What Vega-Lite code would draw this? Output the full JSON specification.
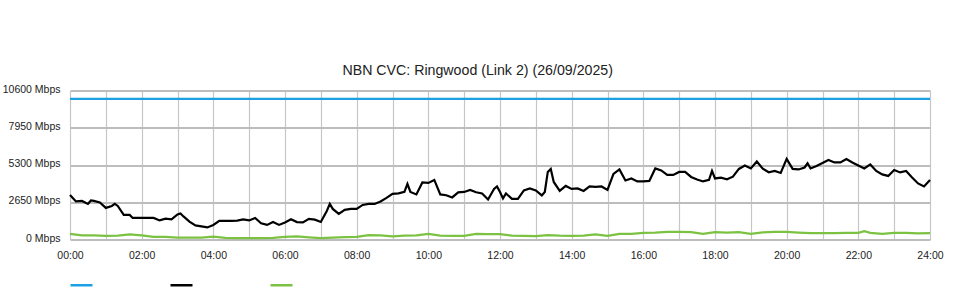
{
  "$schema": "https://vega.github.io/schema/vega-lite/v6.json",
  "autosize": {"type": "none"},
  "width": 860,
  "height": 149,
  "padding": {"left": 70, "top": 90.5, "right": 30, "bottom": 60.5},
  "background": "#ffffff",
  "title": {"text": "NBN CVC: Ringwood (Link 2) (26/09/2025)", "font": "Liberation Sans", "fontSize": 14.2, "fontWeight": "normal", "color": "#222222", "frame": "bounds", "anchor": "middle", "offset": 6, "dx": 5},
  "config": {"view": {"stroke": null}, "font": "Liberation Sans"},
  "data": {"values": [
    {"t": "2025-09-26T00:00", "s": "Capacity", "v": 10000},
    {"t": "2025-09-27T00:00", "s": "Capacity", "v": 10000},
    {"t": "2025-09-26T00:00", "s": "Download", "v": 3171},
    {"t": "2025-09-26T00:10", "s": "Download", "v": 2709},
    {"t": "2025-09-26T00:20", "s": "Download", "v": 2744},
    {"t": "2025-09-26T00:30", "s": "Download", "v": 2531},
    {"t": "2025-09-26T00:35", "s": "Download", "v": 2780},
    {"t": "2025-09-26T00:40", "s": "Download", "v": 2744},
    {"t": "2025-09-26T00:50", "s": "Download", "v": 2638},
    {"t": "2025-09-26T01:00", "s": "Download", "v": 2247},
    {"t": "2025-09-26T01:10", "s": "Download", "v": 2389},
    {"t": "2025-09-26T01:15", "s": "Download", "v": 2531},
    {"t": "2025-09-26T01:20", "s": "Download", "v": 2389},
    {"t": "2025-09-26T01:30", "s": "Download", "v": 1749},
    {"t": "2025-09-26T01:40", "s": "Download", "v": 1749},
    {"t": "2025-09-26T01:45", "s": "Download", "v": 1536},
    {"t": "2025-09-26T01:50", "s": "Download", "v": 1536},
    {"t": "2025-09-26T02:00", "s": "Download", "v": 1536},
    {"t": "2025-09-26T02:10", "s": "Download", "v": 1536},
    {"t": "2025-09-26T02:20", "s": "Download", "v": 1536},
    {"t": "2025-09-26T02:30", "s": "Download", "v": 1358},
    {"t": "2025-09-26T02:40", "s": "Download", "v": 1486},
    {"t": "2025-09-26T02:50", "s": "Download", "v": 1429},
    {"t": "2025-09-26T03:00", "s": "Download", "v": 1785},
    {"t": "2025-09-26T03:05", "s": "Download", "v": 1856},
    {"t": "2025-09-26T03:10", "s": "Download", "v": 1642},
    {"t": "2025-09-26T03:20", "s": "Download", "v": 1273},
    {"t": "2025-09-26T03:30", "s": "Download", "v": 1003},
    {"t": "2025-09-26T03:40", "s": "Download", "v": 931},
    {"t": "2025-09-26T03:50", "s": "Download", "v": 860},
    {"t": "2025-09-26T04:00", "s": "Download", "v": 1038},
    {"t": "2025-09-26T04:10", "s": "Download", "v": 1322},
    {"t": "2025-09-26T04:20", "s": "Download", "v": 1322},
    {"t": "2025-09-26T04:30", "s": "Download", "v": 1322},
    {"t": "2025-09-26T04:40", "s": "Download", "v": 1344},
    {"t": "2025-09-26T04:50", "s": "Download", "v": 1429},
    {"t": "2025-09-26T05:00", "s": "Download", "v": 1358},
    {"t": "2025-09-26T05:10", "s": "Download", "v": 1536},
    {"t": "2025-09-26T05:20", "s": "Download", "v": 1159},
    {"t": "2025-09-26T05:30", "s": "Download", "v": 1038},
    {"t": "2025-09-26T05:40", "s": "Download", "v": 1251},
    {"t": "2025-09-26T05:50", "s": "Download", "v": 1038},
    {"t": "2025-09-26T06:00", "s": "Download", "v": 1216},
    {"t": "2025-09-26T06:10", "s": "Download", "v": 1443},
    {"t": "2025-09-26T06:20", "s": "Download", "v": 1237},
    {"t": "2025-09-26T06:30", "s": "Download", "v": 1216},
    {"t": "2025-09-26T06:40", "s": "Download", "v": 1465},
    {"t": "2025-09-26T06:50", "s": "Download", "v": 1415},
    {"t": "2025-09-26T07:00", "s": "Download", "v": 1251},
    {"t": "2025-09-26T07:10", "s": "Download", "v": 2033},
    {"t": "2025-09-26T07:15", "s": "Download", "v": 2531},
    {"t": "2025-09-26T07:20", "s": "Download", "v": 2176},
    {"t": "2025-09-26T07:30", "s": "Download", "v": 1820},
    {"t": "2025-09-26T07:40", "s": "Download", "v": 2105},
    {"t": "2025-09-26T07:50", "s": "Download", "v": 2176},
    {"t": "2025-09-26T08:00", "s": "Download", "v": 2176},
    {"t": "2025-09-26T08:10", "s": "Download", "v": 2460},
    {"t": "2025-09-26T08:20", "s": "Download", "v": 2531},
    {"t": "2025-09-26T08:30", "s": "Download", "v": 2531},
    {"t": "2025-09-26T08:40", "s": "Download", "v": 2709},
    {"t": "2025-09-26T08:50", "s": "Download", "v": 2958},
    {"t": "2025-09-26T09:00", "s": "Download", "v": 3242},
    {"t": "2025-09-26T09:10", "s": "Download", "v": 3278},
    {"t": "2025-09-26T09:20", "s": "Download", "v": 3384},
    {"t": "2025-09-26T09:25", "s": "Download", "v": 3953},
    {"t": "2025-09-26T09:30", "s": "Download", "v": 3384},
    {"t": "2025-09-26T09:40", "s": "Download", "v": 3207},
    {"t": "2025-09-26T09:50", "s": "Download", "v": 4060},
    {"t": "2025-09-26T10:00", "s": "Download", "v": 4024},
    {"t": "2025-09-26T10:10", "s": "Download", "v": 4238},
    {"t": "2025-09-26T10:20", "s": "Download", "v": 3207},
    {"t": "2025-09-26T10:30", "s": "Download", "v": 3150},
    {"t": "2025-09-26T10:40", "s": "Download", "v": 2993},
    {"t": "2025-09-26T10:50", "s": "Download", "v": 3349},
    {"t": "2025-09-26T11:00", "s": "Download", "v": 3384},
    {"t": "2025-09-26T11:10", "s": "Download", "v": 3527},
    {"t": "2025-09-26T11:20", "s": "Download", "v": 3363},
    {"t": "2025-09-26T11:30", "s": "Download", "v": 3278},
    {"t": "2025-09-26T11:40", "s": "Download", "v": 2851},
    {"t": "2025-09-26T11:50", "s": "Download", "v": 3598},
    {"t": "2025-09-26T11:55", "s": "Download", "v": 3775},
    {"t": "2025-09-26T12:00", "s": "Download", "v": 3384},
    {"t": "2025-09-26T12:05", "s": "Download", "v": 2922},
    {"t": "2025-09-26T12:10", "s": "Download", "v": 3278},
    {"t": "2025-09-26T12:20", "s": "Download", "v": 2887},
    {"t": "2025-09-26T12:30", "s": "Download", "v": 2887},
    {"t": "2025-09-26T12:40", "s": "Download", "v": 3491},
    {"t": "2025-09-26T12:50", "s": "Download", "v": 3633},
    {"t": "2025-09-26T13:00", "s": "Download", "v": 3491},
    {"t": "2025-09-26T13:10", "s": "Download", "v": 3136},
    {"t": "2025-09-26T13:15", "s": "Download", "v": 3384},
    {"t": "2025-09-26T13:20", "s": "Download", "v": 4806},
    {"t": "2025-09-26T13:25", "s": "Download", "v": 5020},
    {"t": "2025-09-26T13:30", "s": "Download", "v": 4095},
    {"t": "2025-09-26T13:40", "s": "Download", "v": 3455},
    {"t": "2025-09-26T13:50", "s": "Download", "v": 3811},
    {"t": "2025-09-26T14:00", "s": "Download", "v": 3598},
    {"t": "2025-09-26T14:10", "s": "Download", "v": 3633},
    {"t": "2025-09-26T14:20", "s": "Download", "v": 3455},
    {"t": "2025-09-26T14:30", "s": "Download", "v": 3775},
    {"t": "2025-09-26T14:40", "s": "Download", "v": 3740},
    {"t": "2025-09-26T14:50", "s": "Download", "v": 3775},
    {"t": "2025-09-26T15:00", "s": "Download", "v": 3527},
    {"t": "2025-09-26T15:10", "s": "Download", "v": 4664},
    {"t": "2025-09-26T15:20", "s": "Download", "v": 4984},
    {"t": "2025-09-26T15:30", "s": "Download", "v": 4202},
    {"t": "2025-09-26T15:40", "s": "Download", "v": 4344},
    {"t": "2025-09-26T15:50", "s": "Download", "v": 4131},
    {"t": "2025-09-26T16:00", "s": "Download", "v": 4131},
    {"t": "2025-09-26T16:10", "s": "Download", "v": 4166},
    {"t": "2025-09-26T16:20", "s": "Download", "v": 5055},
    {"t": "2025-09-26T16:30", "s": "Download", "v": 4913},
    {"t": "2025-09-26T16:40", "s": "Download", "v": 4593},
    {"t": "2025-09-26T16:50", "s": "Download", "v": 4593},
    {"t": "2025-09-26T17:00", "s": "Download", "v": 4806},
    {"t": "2025-09-26T17:10", "s": "Download", "v": 4806},
    {"t": "2025-09-26T17:20", "s": "Download", "v": 4451},
    {"t": "2025-09-26T17:30", "s": "Download", "v": 4273},
    {"t": "2025-09-26T17:40", "s": "Download", "v": 4131},
    {"t": "2025-09-26T17:50", "s": "Download", "v": 4238},
    {"t": "2025-09-26T17:55", "s": "Download", "v": 4877},
    {"t": "2025-09-26T18:00", "s": "Download", "v": 4344},
    {"t": "2025-09-26T18:10", "s": "Download", "v": 4401},
    {"t": "2025-09-26T18:20", "s": "Download", "v": 4287},
    {"t": "2025-09-26T18:30", "s": "Download", "v": 4472},
    {"t": "2025-09-26T18:40", "s": "Download", "v": 5020},
    {"t": "2025-09-26T18:50", "s": "Download", "v": 5269},
    {"t": "2025-09-26T19:00", "s": "Download", "v": 5055},
    {"t": "2025-09-26T19:10", "s": "Download", "v": 5553},
    {"t": "2025-09-26T19:20", "s": "Download", "v": 5041},
    {"t": "2025-09-26T19:30", "s": "Download", "v": 4785},
    {"t": "2025-09-26T19:40", "s": "Download", "v": 4877},
    {"t": "2025-09-26T19:50", "s": "Download", "v": 4735},
    {"t": "2025-09-26T20:00", "s": "Download", "v": 5731},
    {"t": "2025-09-26T20:10", "s": "Download", "v": 5020},
    {"t": "2025-09-26T20:20", "s": "Download", "v": 4984},
    {"t": "2025-09-26T20:30", "s": "Download", "v": 5126},
    {"t": "2025-09-26T20:35", "s": "Download", "v": 5425},
    {"t": "2025-09-26T20:40", "s": "Download", "v": 5055},
    {"t": "2025-09-26T20:50", "s": "Download", "v": 5233},
    {"t": "2025-09-26T21:00", "s": "Download", "v": 5446},
    {"t": "2025-09-26T21:10", "s": "Download", "v": 5660},
    {"t": "2025-09-26T21:20", "s": "Download", "v": 5482},
    {"t": "2025-09-26T21:30", "s": "Download", "v": 5482},
    {"t": "2025-09-26T21:40", "s": "Download", "v": 5731},
    {"t": "2025-09-26T21:50", "s": "Download", "v": 5482},
    {"t": "2025-09-26T22:00", "s": "Download", "v": 5269},
    {"t": "2025-09-26T22:10", "s": "Download", "v": 5055},
    {"t": "2025-09-26T22:20", "s": "Download", "v": 5340},
    {"t": "2025-09-26T22:30", "s": "Download", "v": 4877},
    {"t": "2025-09-26T22:40", "s": "Download", "v": 4629},
    {"t": "2025-09-26T22:50", "s": "Download", "v": 4522},
    {"t": "2025-09-26T23:00", "s": "Download", "v": 4949},
    {"t": "2025-09-26T23:10", "s": "Download", "v": 4771},
    {"t": "2025-09-26T23:20", "s": "Download", "v": 4877},
    {"t": "2025-09-26T23:30", "s": "Download", "v": 4415},
    {"t": "2025-09-26T23:40", "s": "Download", "v": 3989},
    {"t": "2025-09-26T23:50", "s": "Download", "v": 3775},
    {"t": "2025-09-27T00:00", "s": "Download", "v": 4238},
    {"t": "2025-09-26T00:00", "s": "Upload", "v": 398},
    {"t": "2025-09-26T00:20", "s": "Upload", "v": 292},
    {"t": "2025-09-26T00:40", "s": "Upload", "v": 292},
    {"t": "2025-09-26T01:00", "s": "Upload", "v": 256},
    {"t": "2025-09-26T01:20", "s": "Upload", "v": 270},
    {"t": "2025-09-26T01:40", "s": "Upload", "v": 363},
    {"t": "2025-09-26T02:00", "s": "Upload", "v": 292},
    {"t": "2025-09-26T02:20", "s": "Upload", "v": 185},
    {"t": "2025-09-26T02:40", "s": "Upload", "v": 185},
    {"t": "2025-09-26T03:00", "s": "Upload", "v": 135},
    {"t": "2025-09-26T03:20", "s": "Upload", "v": 135},
    {"t": "2025-09-26T03:40", "s": "Upload", "v": 135},
    {"t": "2025-09-26T04:00", "s": "Upload", "v": 206},
    {"t": "2025-09-26T04:20", "s": "Upload", "v": 114},
    {"t": "2025-09-26T04:40", "s": "Upload", "v": 92},
    {"t": "2025-09-26T05:00", "s": "Upload", "v": 92},
    {"t": "2025-09-26T05:20", "s": "Upload", "v": 92},
    {"t": "2025-09-26T05:40", "s": "Upload", "v": 114},
    {"t": "2025-09-26T06:00", "s": "Upload", "v": 185},
    {"t": "2025-09-26T06:20", "s": "Upload", "v": 220},
    {"t": "2025-09-26T06:40", "s": "Upload", "v": 149},
    {"t": "2025-09-26T07:00", "s": "Upload", "v": 92},
    {"t": "2025-09-26T07:20", "s": "Upload", "v": 135},
    {"t": "2025-09-26T07:40", "s": "Upload", "v": 164},
    {"t": "2025-09-26T08:00", "s": "Upload", "v": 185},
    {"t": "2025-09-26T08:20", "s": "Upload", "v": 306},
    {"t": "2025-09-26T08:40", "s": "Upload", "v": 292},
    {"t": "2025-09-26T09:00", "s": "Upload", "v": 220},
    {"t": "2025-09-26T09:20", "s": "Upload", "v": 277},
    {"t": "2025-09-26T09:40", "s": "Upload", "v": 292},
    {"t": "2025-09-26T10:00", "s": "Upload", "v": 398},
    {"t": "2025-09-26T10:20", "s": "Upload", "v": 277},
    {"t": "2025-09-26T10:40", "s": "Upload", "v": 256},
    {"t": "2025-09-26T11:00", "s": "Upload", "v": 256},
    {"t": "2025-09-26T11:20", "s": "Upload", "v": 398},
    {"t": "2025-09-26T11:40", "s": "Upload", "v": 377},
    {"t": "2025-09-26T12:00", "s": "Upload", "v": 377},
    {"t": "2025-09-26T12:20", "s": "Upload", "v": 277},
    {"t": "2025-09-26T12:40", "s": "Upload", "v": 256},
    {"t": "2025-09-26T13:00", "s": "Upload", "v": 235},
    {"t": "2025-09-26T13:20", "s": "Upload", "v": 306},
    {"t": "2025-09-26T13:40", "s": "Upload", "v": 270},
    {"t": "2025-09-26T14:00", "s": "Upload", "v": 256},
    {"t": "2025-09-26T14:20", "s": "Upload", "v": 277},
    {"t": "2025-09-26T14:40", "s": "Upload", "v": 363},
    {"t": "2025-09-26T15:00", "s": "Upload", "v": 256},
    {"t": "2025-09-26T15:20", "s": "Upload", "v": 398},
    {"t": "2025-09-26T15:40", "s": "Upload", "v": 398},
    {"t": "2025-09-26T16:00", "s": "Upload", "v": 469},
    {"t": "2025-09-26T16:20", "s": "Upload", "v": 490},
    {"t": "2025-09-26T16:40", "s": "Upload", "v": 540},
    {"t": "2025-09-26T17:00", "s": "Upload", "v": 540},
    {"t": "2025-09-26T17:20", "s": "Upload", "v": 519},
    {"t": "2025-09-26T17:40", "s": "Upload", "v": 398},
    {"t": "2025-09-26T18:00", "s": "Upload", "v": 519},
    {"t": "2025-09-26T18:20", "s": "Upload", "v": 490},
    {"t": "2025-09-26T18:40", "s": "Upload", "v": 526},
    {"t": "2025-09-26T19:00", "s": "Upload", "v": 398},
    {"t": "2025-09-26T19:20", "s": "Upload", "v": 505},
    {"t": "2025-09-26T19:40", "s": "Upload", "v": 540},
    {"t": "2025-09-26T20:00", "s": "Upload", "v": 540},
    {"t": "2025-09-26T20:20", "s": "Upload", "v": 490},
    {"t": "2025-09-26T20:40", "s": "Upload", "v": 448},
    {"t": "2025-09-26T21:00", "s": "Upload", "v": 448},
    {"t": "2025-09-26T21:20", "s": "Upload", "v": 448},
    {"t": "2025-09-26T21:40", "s": "Upload", "v": 469},
    {"t": "2025-09-26T22:00", "s": "Upload", "v": 469},
    {"t": "2025-09-26T22:10", "s": "Upload", "v": 590},
    {"t": "2025-09-26T22:20", "s": "Upload", "v": 469},
    {"t": "2025-09-26T22:40", "s": "Upload", "v": 398},
    {"t": "2025-09-26T23:00", "s": "Upload", "v": 469},
    {"t": "2025-09-26T23:20", "s": "Upload", "v": 469},
    {"t": "2025-09-26T23:40", "s": "Upload", "v": 434},
    {"t": "2025-09-27T00:00", "s": "Upload", "v": 448}
  ]},
  "mark": {"type": "line", "strokeWidth": 2.2, "interpolate": "linear"},
  "encoding": {
    "x": {
      "field": "t", "type": "temporal",
      "scale": {"domain": ["2025-09-26T00:00", "2025-09-27T00:00"], "nice": false},
      "axis": {
        "title": null,
        "values": ["2025-09-26T00:00","2025-09-26T01:00","2025-09-26T02:00","2025-09-26T03:00","2025-09-26T04:00","2025-09-26T05:00","2025-09-26T06:00","2025-09-26T07:00","2025-09-26T08:00","2025-09-26T09:00","2025-09-26T10:00","2025-09-26T11:00","2025-09-26T12:00","2025-09-26T13:00","2025-09-26T14:00","2025-09-26T15:00","2025-09-26T16:00","2025-09-26T17:00","2025-09-26T18:00","2025-09-26T19:00","2025-09-26T20:00","2025-09-26T21:00","2025-09-26T22:00","2025-09-26T23:00","2025-09-27T00:00"],
        "labelExpr": "hours(datum.value) % 2 == 0 ? (date(datum.value) == 27 ? '24:00' : timeFormat(datum.value, '%H:%M')) : ''",
        "labelOverlap": false, "labelFlush": false, "labelBound": false,
        "domain": false, "ticks": false, "labelPadding": 11,
        "labelFont": "Liberation Sans", "labelFontSize": 10.5, "labelColor": "#222222", "labelAngle": 0,
        "grid": true, "gridColor": "#c6c6c6", "gridWidth": 1.2, "gridOpacity": 1
      }
    },
    "y": {
      "field": "v", "type": "quantitative",
      "scale": {"domain": [0, 10600], "nice": false, "zero": true},
      "axis": {
        "title": null, "values": [0, 2650, 5300, 7950, 10600],
        "labelExpr": "datum.value + ' Mbps'",
        "domain": false, "ticks": false, "labelPadding": 10, "labelOffset": -1.5,
        "labelFont": "Liberation Sans", "labelFontSize": 10.5, "labelColor": "#222222",
        "grid": true, "gridColor": "#bdbdbd", "gridWidth": 2, "gridOpacity": 1
      }
    },
    "color": {
      "field": "s", "type": "nominal",
      "scale": {"domain": ["Capacity", "Download", "Upload"], "range": ["#1ba1e2", "#000000", "#7cc242"]},
      "legend": {
        "orient": "none", "legendX": -1, "legendY": 182, "direction": "horizontal",
        "title": null, "symbolType": "stroke", "symbolSize": 484, "symbolStrokeWidth": 2.5,
        "labelExpr": "''", "labelOffset": 0, "columnPadding": 67, "padding": 0
      }
    }
  }
}
